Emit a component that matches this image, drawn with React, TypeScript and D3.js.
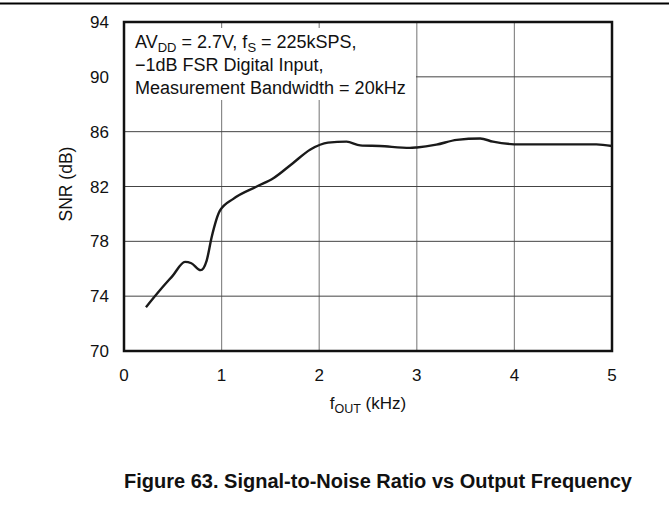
import { useEffect, useRef } from "react"
import * as d3 from "d3"

// SNR vs output frequency
const freqKHz = [0.225, 0.37, 0.5, 0.625, 0.69, 0.786, 0.847, 0.898, 0.98, 1.12, 1.36, 1.53, 1.73, 1.91, 2.09, 2.28, 2.42, 2.62, 2.93, 3.0, 3.2, 3.41, 3.65, 3.78, 4.06, 4.5, 4.84, 5.0]
const snrDb = [73.2, 74.45, 75.5, 76.5, 76.4, 75.9, 76.6, 78.3, 80.2, 81.1, 82.0, 82.6, 83.7, 84.7, 85.2, 85.27, 85.0, 84.95, 84.82, 84.85, 85.05, 85.4, 85.5, 85.27, 85.07, 85.07, 85.07, 84.95]

const xTicks = [0, 1, 2, 3, 4, 5]
const yTicks = [70, 74, 78, 82, 86, 90, 94]

export default function App() {
  const svgRef = useRef<SVGSVGElement>(null)

  useEffect(() => {
    if (!svgRef.current) return
    const width = 669
    const left = 124
    const right = 612
    const top = 22
    const bottom = 351
    const font = "'Liberation Sans', Arial, sans-serif"

    const svg = d3.select(svgRef.current)
    svg.selectAll("*").remove()

    const x = d3.scaleLinear().domain([0, 5]).range([left, right])
    const y = d3.scaleLinear().domain([70, 94]).range([bottom, top])

    // rule across the top of the page
    svg
      .append("line")
      .attr("x1", 0)
      .attr("x2", width)
      .attr("y1", 3.5)
      .attr("y2", 3.5)
      .attr("stroke", "#000")
      .attr("stroke-width", 2)

    // grid
    svg
      .append("g")
      .selectAll("line")
      .data(xTicks.slice(1, -1))
      .join("line")
      .attr("x1", (d) => x(d))
      .attr("x2", (d) => x(d))
      .attr("y1", top)
      .attr("y2", bottom)
      .attr("stroke", "#8a8a8a")
      .attr("stroke-width", 1.2)

    svg
      .append("g")
      .selectAll("line")
      .data(yTicks.slice(1, -1))
      .join("line")
      .attr("x1", left)
      .attr("x2", right)
      .attr("y1", (d) => y(d))
      .attr("y2", (d) => y(d))
      .attr("stroke", "#444")
      .attr("stroke-width", 1)

    // white box behind the conditions note
    svg
      .append("rect")
      .attr("x", left + 1)
      .attr("y", top + 6)
      .attr("width", 291)
      .attr("height", 72)
      .attr("fill", "#fff")

    const note = svg
      .append("text")
      .style("font-family", font)
      .style("font-size", "18px")
      .attr("fill", "#111")
    const l1 = note.append("tspan").attr("x", 135).attr("y", 48)
    l1.append("tspan").text("AV")
    l1.append("tspan").attr("dy", 4).style("font-size", "13px").text("DD")
    l1.append("tspan").attr("dy", -4).text(" = 2.7V, f")
    l1.append("tspan").attr("dy", 4).style("font-size", "13px").text("S")
    l1.append("tspan").attr("dy", -4).text(" = 225kSPS,")
    note.append("tspan").attr("x", 135).attr("y", 71).text("\u22121dB FSR Digital Input,")
    note.append("tspan").attr("x", 135).attr("y", 94).text("Measurement Bandwidth = 20kHz")

    // frame
    svg
      .append("rect")
      .attr("x", left)
      .attr("y", top)
      .attr("width", right - left)
      .attr("height", bottom - top)
      .attr("fill", "none")
      .attr("stroke", "#111")
      .attr("stroke-width", 2.5)

    // curve
    const line = d3
      .line<number>()
      .x((d, i) => x(freqKHz[i]))
      .y((d) => y(d))
      .curve(d3.curveMonotoneX)

    svg
      .append("path")
      .datum(snrDb)
      .attr("d", line)
      .attr("fill", "none")
      .attr("stroke", "#1a1a1a")
      .attr("stroke-width", 2.4)

    svg
      .append("g")
      .selectAll("text")
      .data(xTicks)
      .join("text")
      .attr("x", (d) => x(d))
      .attr("y", 381)
      .attr("text-anchor", "middle")
      .style("font-family", font)
      .style("font-size", "17px")
      .attr("fill", "#111")
      .text((d) => d)

    svg
      .append("g")
      .selectAll("text")
      .data(yTicks)
      .join("text")
      .attr("x", 109)
      .attr("y", (d) => y(d) + 6)
      .attr("text-anchor", "end")
      .style("font-family", font)
      .style("font-size", "17px")
      .attr("fill", "#111")
      .text((d) => d)

    svg
      .append("text")
      .attr("transform", `translate(72, 184) rotate(-90)`)
      .attr("text-anchor", "middle")
      .style("font-family", font)
      .style("font-size", "17.5px")
      .attr("fill", "#111")
      .text("SNR (dB)")

    const xl = svg
      .append("text")
      .attr("x", 368)
      .attr("y", 409)
      .attr("text-anchor", "middle")
      .style("font-family", font)
      .style("font-size", "17px")
      .attr("fill", "#111")
    xl.append("tspan").text("f")
    xl.append("tspan").attr("dy", 4).style("font-size", "12.5px").text("OUT")
    xl.append("tspan").attr("dy", -4).text(" (kHz)")

    svg
      .append("text")
      .attr("x", 378)
      .attr("y", 488)
      .attr("text-anchor", "middle")
      .style("font-family", font)
      .style("font-size", "20px")
      .style("font-weight", "bold")
      .attr("fill", "#111")
      .text("Figure 63. Signal-to-Noise Ratio vs Output Frequency")
  }, [])

  return (
    <svg
      ref={svgRef}
      width={669}
      height={506}
      style={{ position: "absolute", left: 0, top: 0, background: "#fff" }}
    />
  )
}
